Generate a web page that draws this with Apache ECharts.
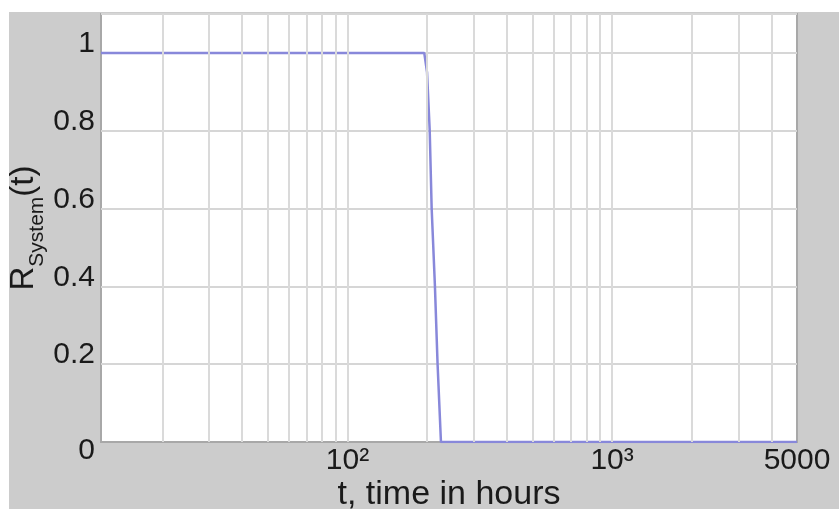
<!DOCTYPE html>
<html>
<head>
<meta charset="utf-8">
<script src="https://cdn.jsdelivr.net/npm/echarts@6/dist/echarts.min.js"></script>
<style>
  html, body { margin: 0; padding: 0; background: #ffffff; }
  #chart { position: absolute; left: 9px; top: 12px; width: 830px; height: 497px; }
</style>
</head>
<body>
<div id="chart"></div>
<script>
// time in hours (log axis) and system reliability
const tHours = [11.7, 20, 50, 100, 150, 190, 195, 199.8, 204.5, 208, 214, 219, 225.5, 300, 1000, 5000];
const reliability = [1, 1, 1, 1, 1, 1, 1, 0.95, 0.8, 0.6, 0.4, 0.2, 0, 0, 0, 0];
// vertical grid lines (major + minor decades)
const xGridValues = [20, 30, 40, 50, 60, 70, 80, 90, 100, 200, 300, 400, 500, 600, 700, 800, 900, 1000, 2000, 3000, 4000];
// x tick labels
const xTickValues = [100, 1000, 5000];
const xTickLabels = ['10\u00B2', '10\u00B3', '5000'];
const xMin = 11.7, xMax = 5000;
const yMin = 0, yMax = 1.1, yStep = 0.2;

const chart = echarts.init(document.getElementById('chart'));
const font = 'Liberation Sans, Arial, sans-serif';

chart.setOption({
  backgroundColor: '#cccccc',
  animation: false,
  grid: {
    left: 92, right: 42, top: 2, bottom: 67,
    outerBoundsMode: 'none', containLabel: false,
    show: true, backgroundColor: '#ffffff',
    borderColor: '#a8a8a8', borderWidth: 2
  },
  xAxis: {
    type: 'log', logBase: 10, min: xMin, max: xMax,
    name: 't, time in hours', nameLocation: 'middle', nameGap: 36, nameMoveOverlap: false,
    nameTextStyle: { fontFamily: font, fontSize: 34, color: '#1a1a1a' },
    axisLine: { show: true, lineStyle: { color: '#a8a8a8', width: 2 } },
    axisTick: { show: false },
    splitLine: { show: false },
    axisLabel: {
      fontFamily: font, fontSize: 30, color: '#1a1a1a', margin: 4,
      showMinLabel: true, showMaxLabel: true,
      formatter: function (v) {
        for (let i = 0; i < xTickValues.length; i++) {
          if (Math.abs(v - xTickValues[i]) / xTickValues[i] < 0.01) return xTickLabels[i];
        }
        return '';
      }
    }
  },
  yAxis: {
    type: 'value', min: yMin, max: yMax, interval: yStep,
    name: '{r|R}{s|System}{r|(t)}', nameLocation: 'middle', nameGap: 53, nameRotate: 90, nameMoveOverlap: false,
    nameTextStyle: {
      fontFamily: font, color: '#1a1a1a',
      rich: {
        r: { fontFamily: font, fontSize: 33, color: '#1a1a1a', verticalAlign: 'bottom', padding: [0, 0, 8, 0] },
        s: { fontFamily: font, fontSize: 21, color: '#1a1a1a', verticalAlign: 'bottom' }
      }
    },
    axisLine: { show: false },
    axisTick: { show: false },
    splitLine: { show: true, lineStyle: { color: '#d6d6d6', width: 2 } },
    axisLabel: {
      fontFamily: font, fontSize: 30, color: '#1a1a1a', margin: 6,
      formatter: function (v) {
        if (v > 1.05) return '';
        if (v === 0) return '{lo|0}';
        return '{up|' + (Math.round(v * 10) / 10) + '}';
      },
      rich: {
        up: { fontFamily: font, fontSize: 30, color: '#1a1a1a', padding: [0, 0, 18, 0] },
        lo: { fontFamily: font, fontSize: 30, color: '#1a1a1a', padding: [18, 0, 0, 0] }
      }
    }
  },
  series: [
    {
      type: 'line', data: [], z: 1, silent: true,
      markLine: {
        silent: true, symbol: ['none', 'none'], label: { show: false },
        lineStyle: { color: '#dadada', width: 2, type: 'solid' },
        data: xGridValues.map(function (v) { return { xAxis: v }; })
      }
    },
    {
      type: 'line', z: 3,
      data: tHours.map(function (t, i) { return [t, reliability[i]]; }),
      showSymbol: false, symbol: 'none',
      lineStyle: { color: '#8888da', width: 2.5 },
      itemStyle: { color: '#8888da' }
    }
  ]
});
</script>
</body>
</html>
